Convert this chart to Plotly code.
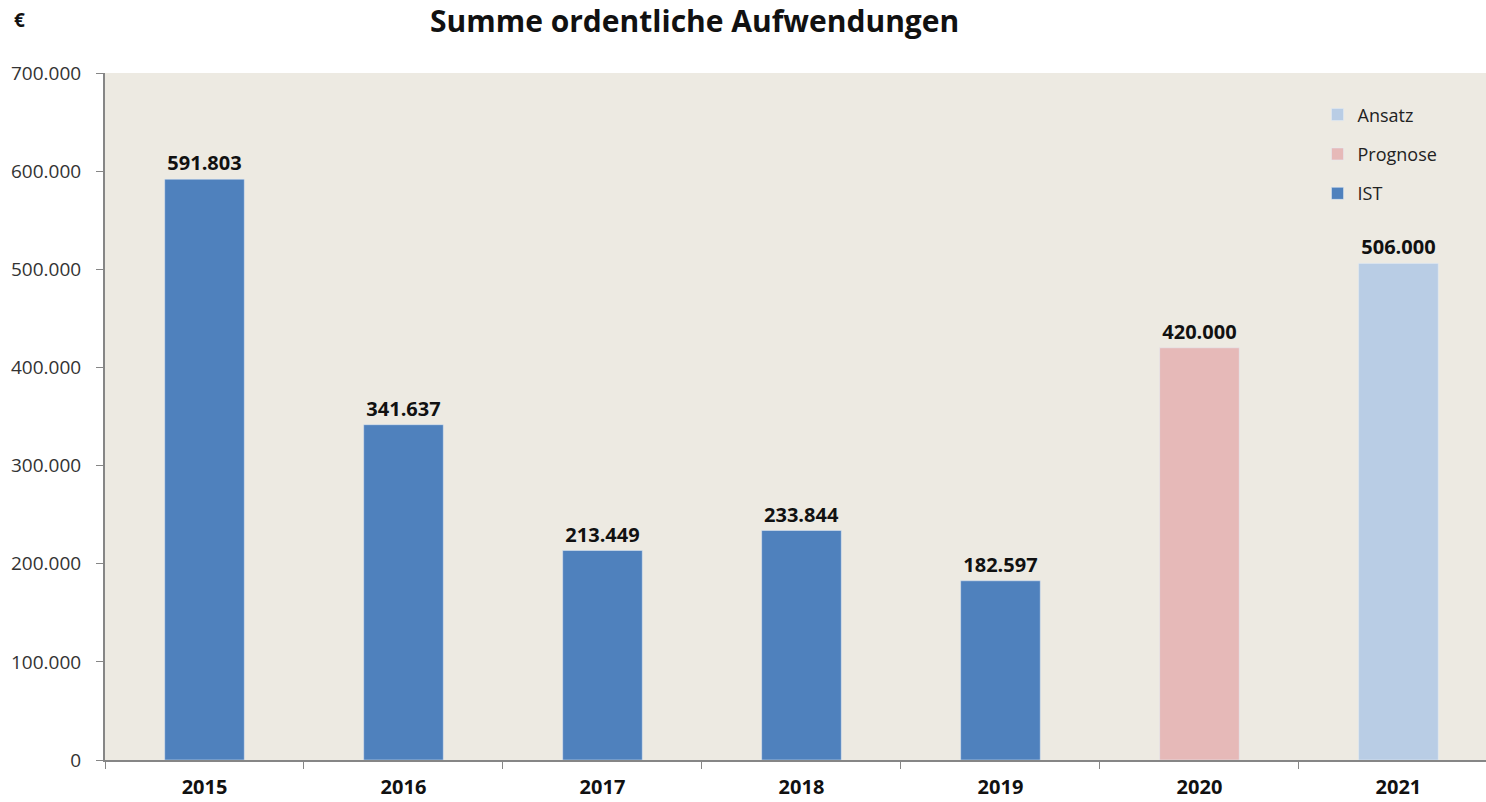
import plotly.graph_objects as go

years = ["2015", "2016", "2017", "2018", "2019", "2020", "2021"]
ist_years = ["2015", "2016", "2017", "2018", "2019"]
ist_values = [591803, 341637, 213449, 233844, 182597]
prognose_years = ["2020"]
prognose_values = [420000]
ansatz_years = ["2021"]
ansatz_values = [506000]

FONT = "Open Sans"
fig = go.Figure()
common = dict(width=0.4, texttemplate="%{y:,.0f}", textposition="outside",
              textfont=dict(family=FONT, size=20, color="#111111", weight="bold"),
              cliponaxis=False)
fig.add_trace(go.Bar(x=ansatz_years, y=ansatz_values, name="Ansatz", marker_color="#B9CDE5",
                     legendgroup="c", **common))
fig.add_trace(go.Bar(x=prognose_years, y=prognose_values, name="Prognose", marker_color="#E6B9B8",
                     legendgroup="b", **common))
fig.add_trace(go.Bar(x=ist_years, y=ist_values, name="IST", marker_color="#4F81BD",
                     legendgroup="a", **common))

fig.update_layout(
    width=1486, height=802,
    margin=dict(l=105, r=0, t=73, b=42),
    paper_bgcolor="white", plot_bgcolor="#EDEAE2",
    barmode="overlay", separators=",.",
    font=dict(family=FONT, size=18, color="#333333"),
    showlegend=True,
    legend=dict(x=0.878, y=0.966, xanchor="left", yanchor="top", traceorder="grouped",
                bgcolor="rgba(0,0,0,0)", font=dict(size=18, color="#222222"),
                tracegroupgap=13),
    xaxis=dict(type="category", categoryorder="array", categoryarray=years, automargin=False,
               range=[-0.5, 6.44], tickson="boundaries", ticks="outside", ticklen=7,
               tickcolor="#868686", showline=True, linecolor="#868686", linewidth=2,
               ticklabelstandoff=8,
               showgrid=False, tickfont=dict(size=20, color="#111111", weight="bold")),
    yaxis=dict(range=[0, 700000], dtick=100000, tickformat=",.0f", ticks="outside", ticklen=7,
               tickcolor="#868686", showline=True, linecolor="#868686", linewidth=2,
               automargin=False, ticklabelstandoff=11,
               showgrid=False, zeroline=False, tickfont=dict(size=19, color="#333333")),
    annotations=[
        dict(text="Summe ordentliche Aufwendungen", xref="paper", yref="paper",
             x=(694 - 105) / 1381, y=1 + (73 - 20) / 687, xanchor="center", yanchor="middle",
             showarrow=False, font=dict(family=FONT, size=30, color="#111111", weight="bold")),
        dict(text="€", xref="paper", yref="paper", x=-(105 - 12) / 1381, y=1 + (73 - 20) / 687,
             xanchor="left", yanchor="middle", showarrow=False,
             font=dict(family=FONT, size=19, color="#111111", weight="bold")),
    ],
)
fig.write_html("out.html", config={"displayModeBar": False},
               post_script="document.body.style.margin='0';")
